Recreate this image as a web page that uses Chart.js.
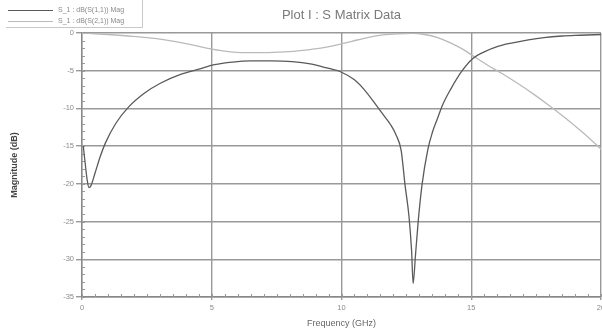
<!DOCTYPE html>
<html><head><meta charset="utf-8">
<script src="https://cdn.jsdelivr.net/npm/chart.js@4"></script>
<style>html,body{margin:0;padding:0;background:#fff;}</style>
</head><body>
<canvas id="c" width="602" height="335"></canvas>
<script>
// ---- data ----
const chartTitle = 'Plot I : S Matrix Data';
const seriesNames = ['S_1 : dB(S(1,1)) Mag', 'S_1 : dB(S(2,1)) Mag'];
const xAxisLabel = 'Frequency (GHz)';
const yAxisLabel = 'Magnitude (dB)';
const xTicks = [0, 5, 10, 15, 20];
const yTicks = [0, -5, -10, -15, -20, -25, -30, -35];

const s11Freq = [0.05, 0.12, 0.2, 0.27, 0.35, 0.5, 0.7, 0.9, 1.3, 1.8, 2.4, 3.0, 3.8, 4.5, 5.1, 5.8, 6.5, 7.3, 8.1, 8.8, 9.4, 10.0, 10.5, 10.9, 11.3, 11.6, 11.9, 12.1, 12.3, 12.45, 12.6, 12.7, 12.76, 12.85, 12.95, 13.1, 13.33, 13.5, 13.68, 13.9, 14.2, 14.65, 15.05, 15.5, 16.0, 16.6, 17.2, 17.8, 18.5, 19.2, 20.0];
const s11dB   = [-15.0, -17.2, -19.5, -20.5, -20.2, -18.6, -16.4, -14.6, -12.0, -9.8, -8.0, -6.7, -5.5, -4.8, -4.2, -3.85, -3.7, -3.7, -3.8, -4.1, -4.6, -5.2, -6.2, -7.6, -9.4, -10.8, -12.2, -13.5, -15.6, -20.2, -24.3, -28.8, -33.2, -29.5, -25.2, -20.2, -15.4, -13.2, -11.5, -9.5, -7.5, -5.0, -3.4, -2.5, -1.8, -1.3, -0.9, -0.6, -0.4, -0.3, -0.2];

const s21Freq = [0, 0.5, 1.0, 1.8, 2.5, 3.2, 4.0, 4.8, 5.5, 6.3, 7.0, 7.8, 8.5, 9.2, 9.8, 10.4, 11.0, 11.6, 12.2, 12.7, 13.2, 13.7, 14.2, 14.7, 15.1, 15.6, 16.2, 16.8, 17.4, 18.0, 18.6, 19.3, 20.0];
const s21dB   = [0, -0.1, -0.2, -0.4, -0.6, -0.9, -1.4, -2.0, -2.4, -2.6, -2.6, -2.5, -2.3, -2.0, -1.6, -1.1, -0.6, -0.25, -0.1, -0.05, -0.2, -0.6, -1.3, -2.2, -3.1, -4.2, -5.4, -6.7, -8.1, -9.6, -11.2, -13.2, -15.4];

// ---- chart ----
const FONT = 'Liberation Sans, Arial, sans-serif';
const toPts = (xs, ys) => xs.map((x, i) => ({x, y: ys[i]}));

const minorTicks = {
  id: 'minorTicks',
  beforeDatasetsDraw(chart) {
    const {ctx, chartArea: a, scales: {x, y}} = chart;
    ctx.save();
    ctx.strokeStyle = '#999';
    ctx.lineWidth = 1;
    ctx.beginPath();
    for (let v = y.min; v <= y.max; v += 1) {
      const py = Math.round(y.getPixelForValue(v)) + 0.5;
      ctx.moveTo(a.left, py); ctx.lineTo(a.left + 3, py);
    }
    for (let v = x.min; v <= x.max; v += 0.5) {
      const px = Math.round(x.getPixelForValue(v)) + 0.5;
      ctx.moveTo(px, a.bottom); ctx.lineTo(px, a.bottom - 3);
    }
    ctx.stroke();
    ctx.restore();
  }
};

const boxLegend = {
  id: 'boxLegend',
  afterDraw(chart) {
    const ctx = chart.ctx;
    ctx.save();
    ctx.font = '7px ' + FONT;
    ctx.textBaseline = 'middle';
    chart.data.datasets.forEach((ds, i) => {
      const yy = 10 + i * 11;
      ctx.strokeStyle = ds.borderColor;
      ctx.lineWidth = 1;
      ctx.beginPath(); ctx.moveTo(8, yy + 0.5); ctx.lineTo(53, yy + 0.5); ctx.stroke();
      ctx.fillStyle = '#8a8a8a';
      ctx.fillText(ds.label, 58, yy);
    });
    ctx.strokeStyle = '#c8c8c8';
    ctx.lineWidth = 1;
    ctx.beginPath();
    ctx.moveTo(142.5, 0); ctx.lineTo(142.5, 27.5); ctx.lineTo(6, 27.5);
    ctx.stroke();
    ctx.restore();
  }
};

new Chart(document.getElementById('c'), {
  type: 'line',
  data: {
    datasets: [
      { label: seriesNames[0], data: toPts(s11Freq, s11dB), borderColor: '#5a5a5a', borderWidth: 1.3,
        pointRadius: 0, cubicInterpolationMode: 'monotone', fill: false },
      { label: seriesNames[1], data: toPts(s21Freq, s21dB), borderColor: '#bababa', borderWidth: 1.3,
        pointRadius: 0, cubicInterpolationMode: 'monotone', fill: false }
    ]
  },
  options: {
    responsive: false, animation: false, devicePixelRatio: 1,
    layout: { padding: { left: 0, right: 1, top: 0, bottom: 0 } },
    plugins: {
      legend: { display: false },
      tooltip: { enabled: false },
      title: { display: true, text: chartTitle, color: '#7a7a7a', fullSize: false,
               font: { family: FONT, size: 13, weight: 'normal' }, padding: { top: 8, bottom: 9.4 } }
    },
    scales: {
      x: {
        type: 'linear', min: 0, max: 20,
        afterBuildTicks: s => { s.ticks = xTicks.map(v => ({ value: v })); },
        grid: { color: '#999', lineWidth: 1.4, tickLength: 3, tickColor: '#999' },
        border: { color: '#888', width: 1.4 },
        ticks: { color: '#8a8a8a', font: { family: FONT, size: 7.5 }, padding: 3, maxRotation: 0, autoSkip: false },
        title: { display: true, text: xAxisLabel, color: '#666', font: { family: FONT, size: 9 }, padding: { top: 0, bottom: 6 } },
        afterFit: s => { s.height = 38; s.paddingLeft = 0; s.paddingRight = 0; }
      },
      y: {
        type: 'linear', min: -35, max: 0,
        afterBuildTicks: s => { s.ticks = yTicks.map(v => ({ value: v })); },
        grid: { color: '#999', lineWidth: 1.4, tickLength: 6, tickColor: '#999' },
        border: { color: '#888', width: 1.4 },
        ticks: { color: '#8a8a8a', font: { family: FONT, size: 7.5 }, padding: 2 },
        title: { display: true, text: yAxisLabel, color: '#444', font: { family: FONT, size: 9, weight: 'bold' }, padding: { top: 9.5, bottom: 0 } },
        afterFit: s => { s.width = 82; s.paddingTop = 0; s.paddingBottom = 0; }
      }
    }
  },
  plugins: [minorTicks, boxLegend]
});
</script>
</body></html>
